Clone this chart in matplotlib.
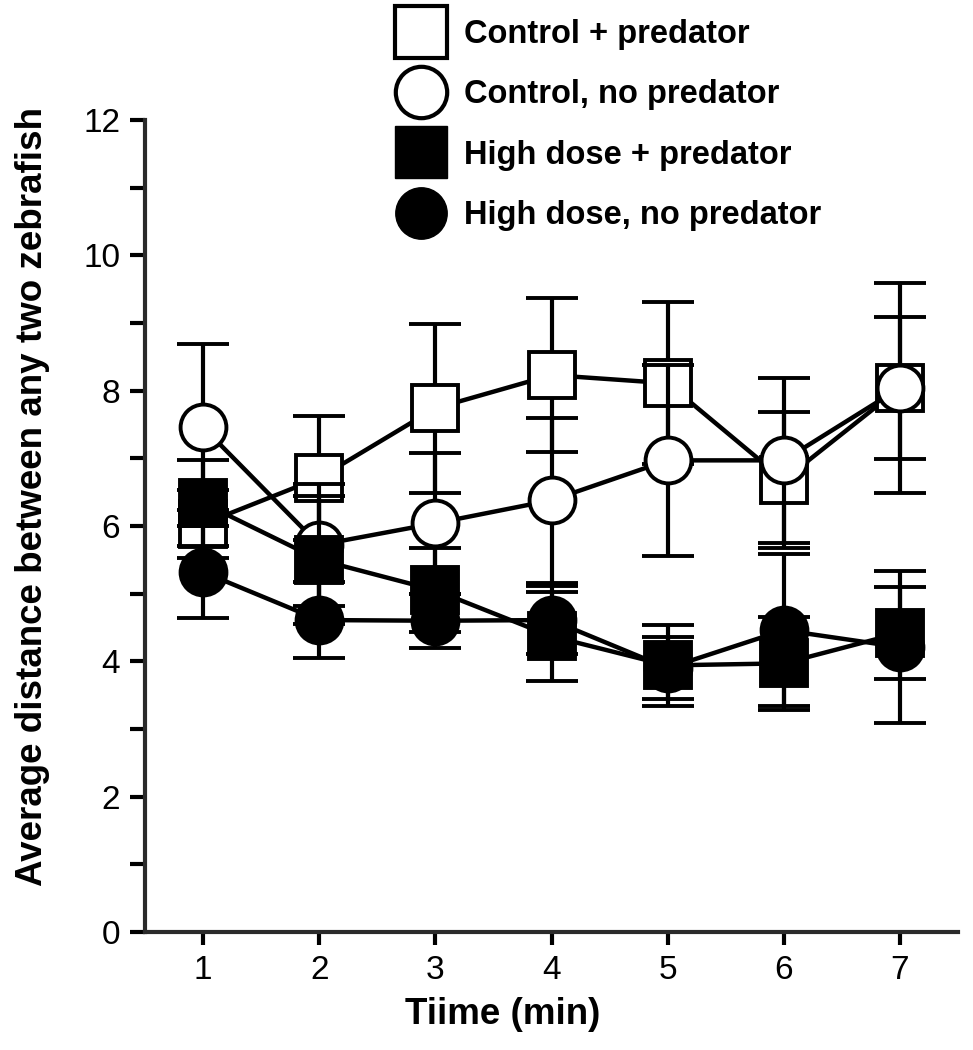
import matplotlib
matplotlib.use("Agg")
import matplotlib.pyplot as plt
from matplotlib.lines import Line2D
from matplotlib.ticker import MultipleLocator

plt.rcParams["font.family"] = ["Liberation Sans", "DejaVu Sans"]

# ---------------------------------------------------
# Data (mean +/- SEM)
time = [1, 2, 3, 4, 5, 6, 7]

ctrl_pred = [6.03, 6.71, 7.74, 8.23, 8.11, 6.68, 8.04]
ctrl_pred_sem = [0.50, 0.91, 1.25, 1.14, 1.20, 1.00, 1.55]

ctrl_nopred = [7.46, 5.72, 6.04, 6.38, 6.97, 6.97, 8.04]
ctrl_nopred_sem = [1.23, 0.90, 1.04, 1.22, 1.41, 1.22, 1.05]

high_pred = [6.34, 5.50, 5.05, 4.37, 3.94, 3.97, 4.42]
high_pred_sem = [0.63, 0.95, 0.62, 0.66, 0.60, 0.69, 0.68]

high_nopred = [5.32, 4.61, 4.60, 4.61, 3.90, 4.46, 4.21]
high_nopred_sem = [0.68, 0.56, 0.40, 0.50, 0.46, 1.12, 1.12]

labels = ["Control + predator", "Control, no predator",
          "High dose + predator", "High dose, no predator"]

# ---------------------------------------------------
fig = plt.figure(figsize=(9.73, 10.5), dpi=100)
ax = fig.add_axes([145 / 973, 118 / 1050, 813 / 973, 812 / 1050])

series = [
    (ctrl_pred, ctrl_pred_sem, "s", "white"),
    (ctrl_nopred, ctrl_nopred_sem, "o", "white"),
    (high_nopred, high_nopred_sem, "o", "black"),
    (high_pred, high_pred_sem, "s", "black"),
]

for i, (y, err, mk, fc) in enumerate(series):
    ax.errorbar(time, y, yerr=err, color="black", marker=mk, markersize=33,
                markerfacecolor=fc, markeredgecolor="black", markeredgewidth=2.8,
                linewidth=3.2, elinewidth=3.0, capsize=19, capthick=3.0,
                zorder=3 + i)

ax.set_xlim(0.5, 7.5)
ax.set_ylim(0, 12)
ax.set_xticks(time)
ax.yaxis.set_major_locator(MultipleLocator(2))
ax.yaxis.set_minor_locator(MultipleLocator(1))

for side in ["top", "right"]:
    ax.spines[side].set_visible(False)
for side in ["left", "bottom"]:
    ax.spines[side].set_linewidth(3)
    ax.spines[side].set_color("#2a2a2a")

ax.tick_params(axis="both", which="both", direction="out", width=3,
               color="black", labelsize=24)
ax.tick_params(axis="y", which="both", length=11, pad=7)
ax.tick_params(axis="x", which="major", length=9.5, pad=7)

ax.set_xlabel("Tiime (min)", fontsize=26.5, fontweight="bold")
ax.set_ylabel("Average distance between any two zebrafish",
              fontsize=26.5, fontweight="bold")
ax.xaxis.set_label_coords(0.44, -0.080)
ax.yaxis.set_label_coords(-0.117, 0.536)

# Legend
handles = [
    Line2D([], [], linestyle="none", marker="s", markersize=37,
           markerfacecolor="white", markeredgecolor="black", markeredgewidth=3),
    Line2D([], [], linestyle="none", marker="o", markersize=37,
           markerfacecolor="white", markeredgecolor="black", markeredgewidth=3),
    Line2D([], [], linestyle="none", marker="s", markersize=37,
           markerfacecolor="black", markeredgecolor="black"),
    Line2D([], [], linestyle="none", marker="o", markersize=37,
           markerfacecolor="black", markeredgecolor="black"),
]
fig.legend(handles, labels, loc="upper left",
           bbox_to_anchor=(395 / 973, 1 - 19 / 1050),
           frameon=False, borderpad=0, borderaxespad=0,
           handlelength=1.6, handletextpad=0.5, labelspacing=0.9,
           prop={"size": 23.5, "weight": "bold"})

plt.savefig("out.png", dpi=100)
